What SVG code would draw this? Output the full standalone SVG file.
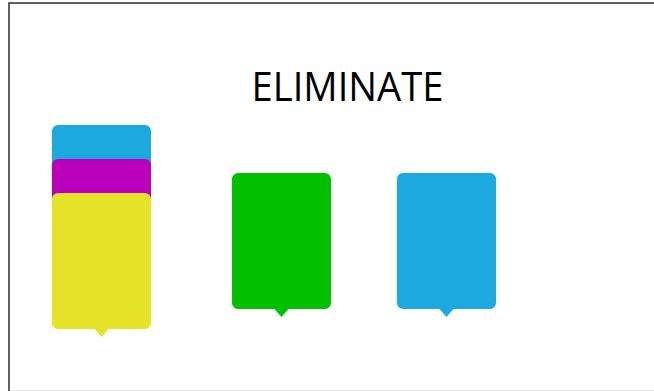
<svg xmlns="http://www.w3.org/2000/svg" width="654" height="391" viewBox="0 0 654 391">
<style>
.t{font-family:"Open Sans","Noto Sans",sans-serif;font-size:41px;fill:#000}
</style>
<defs>
<path id="card" d="M6,0 H93 A6,6 0 0 1 99,6 V130 A6,6 0 0 1 93,136 H56.5 L49.5,144 L42.5,136 H6 A6,6 0 0 1 0,130 V6 A6,6 0 0 1 6,0 Z"/>
</defs>
<rect x="0" y="0" width="654" height="391" fill="#fff"/>
<rect x="9" y="3" width="660" height="400" fill="none" stroke="#3a3a3a" stroke-width="1.6"/>
<line x1="10" y1="390.5" x2="654" y2="390.5" stroke="#e6e6e6" stroke-width="1"/>
<g id="title"><text class="t" x="251.5" y="101" textLength="192" lengthAdjust="spacingAndGlyphs">ELIMINATE</text></g>
<g id="card-blue-back"><use href="#card" x="52" y="125" fill="#1ba9e0"/></g>
<g id="card-magenta"><use href="#card" x="52" y="159" fill="#bb00bb"/></g>
<g id="card-yellow"><use href="#card" x="52" y="193" fill="#e6e428"/></g>
<g id="card-green"><use href="#card" x="232" y="173" fill="#00c000"/></g>
<g id="card-blue"><use href="#card" x="397" y="173" fill="#1ba9e0"/></g>
<g id="connectors"></g>
</svg>
